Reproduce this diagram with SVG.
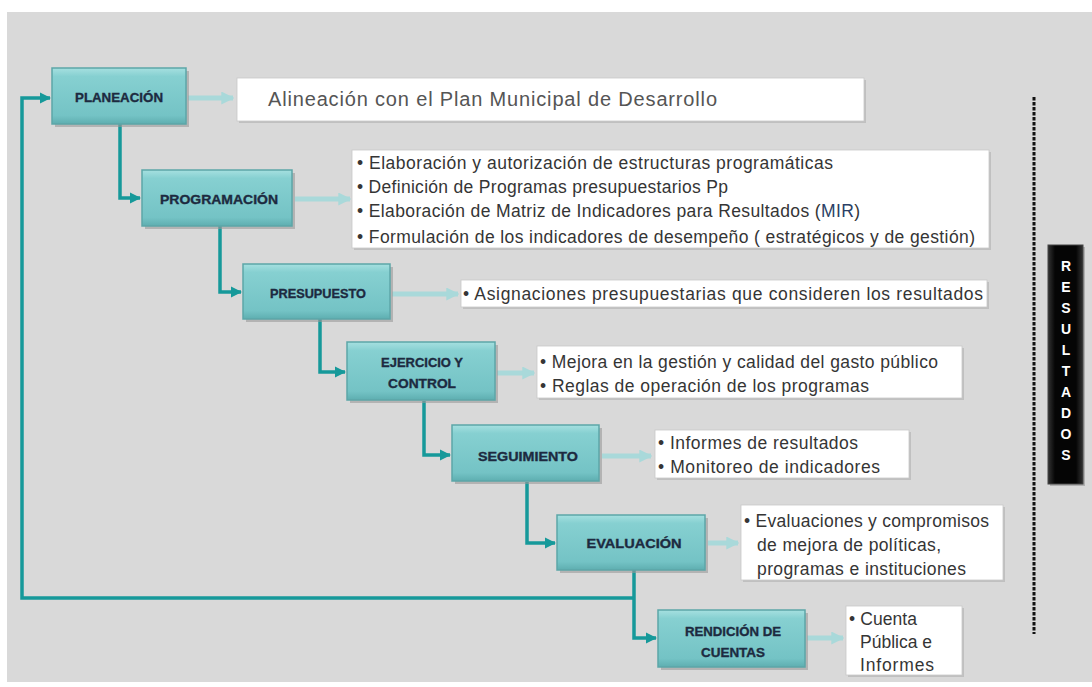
<svg xmlns="http://www.w3.org/2000/svg" width="1092" height="687" viewBox="0 0 1092 687">
<defs>
<linearGradient id="nodeGrad" x1="0" y1="0" x2="0" y2="1">
<stop offset="0" stop-color="#a6e0e0"/>
<stop offset="0.15" stop-color="#86d0d1"/>
<stop offset="0.85" stop-color="#74c3c5"/>
<stop offset="1" stop-color="#5eaeb0"/>
</linearGradient>
<linearGradient id="blackGrad" x1="0" y1="0" x2="1" y2="0">
<stop offset="0" stop-color="#333"/>
<stop offset="0.2" stop-color="#050505"/>
<stop offset="0.8" stop-color="#050505"/>
<stop offset="1" stop-color="#333"/>
</linearGradient>
<marker id="tealHead" viewBox="0 0 10 10" refX="9" refY="5" markerWidth="3.2" markerHeight="3.2" orient="auto" markerUnits="strokeWidth">
<path d="M0,0 L10,5 L0,10 z" fill="#16999a"/>
</marker>
<marker id="lightHead" viewBox="0 0 10 10" refX="9" refY="5" markerWidth="2.6" markerHeight="2.6" orient="auto" markerUnits="strokeWidth">
<path d="M0,0 L10,5 L0,10 z" fill="#a9d9da"/>
</marker>
</defs>
<style>
.node rect.box{fill:url(#nodeGrad);stroke:#5ca6a8;stroke-width:1.5}
.node rect.shadow{fill:#9a9a9a;opacity:0.6}
.node text{font-family:"Liberation Sans",Arial,sans-serif;font-weight:bold;font-size:13px;fill:#1d2a40;stroke:#1d2a40;stroke-width:0.35;text-anchor:middle}
.info rect{fill:#ffffff;stroke:#c8c8c8;stroke-width:0.8}
.info rect.ishadow{fill:#a8a8a8;stroke:none;opacity:0.5}
.info text{font-family:"Liberation Sans",Arial,sans-serif;font-size:17.5px;fill:#353535}
.conn{fill:none;stroke:#16999a;stroke-width:3.5;marker-end:url(#tealHead)}
.light{fill:none;stroke:#a9d9da;stroke-width:5;marker-end:url(#lightHead)}
</style>
<rect x="0" y="0" width="1092" height="687" fill="#ffffff"/>
<rect x="7" y="12" width="1085" height="670" fill="#d9d9d9"/>

<g id="connectors">
<path class="conn" d="M120,124 V198 H140"/>
<path class="conn" d="M220,226 V292 H241"/>
<path class="conn" d="M320,319 V372 H345"/>
<path class="conn" d="M424,401 V455 H450"/>
<path class="conn" d="M527,482 V543 H555"/>
<path class="conn" d="M634,570 V638 H656"/>
<path class="conn" d="M634,598 H22 V98 H50"/>
<path class="light" d="M188,98 H233"/>
<path class="light" d="M295,199 H350"/>
<path class="light" d="M392,294 H458"/>
<path class="light" d="M497,373 H534"/>
<path class="light" d="M602,456 H651"/>
<path class="light" d="M708,543 H738"/>
<path class="light" d="M807,638 H843"/>
</g>

<g id="planeacion" class="node">
<rect class="shadow" x="55" y="71" width="134" height="56"/>
<rect class="box" x="52" y="68" width="134" height="56"/>
<text x="119" y="102" textLength="88" lengthAdjust="spacingAndGlyphs">PLANEACIÓN</text>
</g>
<g id="info-planeacion" class="info">
<rect class="ishadow" x="239" y="80" width="627" height="43"/>
<rect x="237" y="78" width="627" height="43"/>
<text x="268" y="106" textLength="449" style="font-size:20px;fill:#555">Alineación con el Plan Municipal de Desarrollo</text>
</g>

<g id="programacion" class="node">
<rect class="shadow" x="145" y="173" width="150" height="56"/>
<rect class="box" x="142" y="170" width="150" height="56"/>
<text x="219" y="204" textLength="118" lengthAdjust="spacingAndGlyphs">PROGRAMACIÓN</text>
</g>
<g id="info-programacion" class="info">
<rect class="ishadow" x="354" y="152" width="637" height="98"/>
<rect x="352" y="150" width="637" height="98"/>
<text x="357" y="169" textLength="476">• Elaboración y autorización de estructuras programáticas</text>
<text x="357" y="193" textLength="371">• Definición de Programas presupuestarios Pp</text>
<text x="357" y="217" textLength="503">• Elaboración de Matriz de Indicadores para Resultados (<tspan fill="#2b3f66">MIR</tspan>)</text>
<text x="357" y="243" textLength="618">• Formulación de los indicadores de desempeño  ( estratégicos y de gestión)</text>
</g>

<g id="presupuesto" class="node">
<rect class="shadow" x="246" y="267" width="147" height="55"/>
<rect class="box" x="243" y="264" width="147" height="55"/>
<text x="318" y="298" textLength="96" lengthAdjust="spacingAndGlyphs">PRESUPUESTO</text>
</g>
<g id="info-presupuesto" class="info">
<rect class="ishadow" x="463" y="282" width="526" height="27"/>
<rect x="461" y="280" width="526" height="27"/>
<text x="463" y="300" textLength="520">• Asignaciones presupuestarias que consideren los  resultados</text>
</g>

<g id="ejercicio" class="node">
<rect class="shadow" x="350" y="345" width="148" height="58"/>
<rect class="box" x="347" y="342" width="148" height="58"/>
<text x="422" y="367" textLength="82" lengthAdjust="spacingAndGlyphs">EJERCICIO Y</text>
<text x="422" y="388" textLength="68" lengthAdjust="spacingAndGlyphs">CONTROL</text>
</g>
<g id="info-ejercicio" class="info">
<rect class="ishadow" x="539" y="348" width="425" height="52"/>
<rect x="537" y="346" width="425" height="52"/>
<text x="540" y="368" textLength="398">• Mejora en la gestión y calidad del gasto público</text>
<text x="540" y="392" textLength="329">• Reglas  de operación de los programas</text>
</g>

<g id="seguimiento" class="node">
<rect class="shadow" x="455" y="428" width="147" height="56"/>
<rect class="box" x="452" y="425" width="147" height="56"/>
<text x="528" y="461" textLength="100" lengthAdjust="spacingAndGlyphs">SEGUIMIENTO</text>
</g>
<g id="info-seguimiento" class="info">
<rect class="ishadow" x="657" y="432" width="254" height="48"/>
<rect x="655" y="430" width="254" height="48"/>
<text x="658" y="449" textLength="200">• Informes de resultados</text>
<text x="658" y="473" textLength="222">• Monitoreo de indicadores</text>
</g>

<g id="evaluacion" class="node">
<rect class="shadow" x="560" y="518" width="148" height="55"/>
<rect class="box" x="557" y="515" width="148" height="55"/>
<text x="634" y="548" textLength="95" lengthAdjust="spacingAndGlyphs">EVALUACIÓN</text>
</g>
<g id="info-evaluacion" class="info">
<rect class="ishadow" x="743" y="507" width="262" height="75"/>
<rect x="741" y="505" width="262" height="75"/>
<text x="744" y="527" textLength="245">• Evaluaciones y compromisos</text>
<text x="757" y="551" textLength="184">de mejora de políticas,</text>
<text x="757" y="575" textLength="209">programas e instituciones</text>
</g>

<g id="rendicion" class="node">
<rect class="shadow" x="661" y="613" width="147" height="57"/>
<rect class="box" x="658" y="610" width="147" height="57"/>
<text x="733" y="636" textLength="96" lengthAdjust="spacingAndGlyphs">RENDICIÓN DE</text>
<text x="733" y="657" textLength="64" lengthAdjust="spacingAndGlyphs">CUENTAS</text>
</g>
<g id="info-rendicion" class="info">
<rect class="ishadow" x="848" y="608" width="116" height="69"/>
<rect x="846" y="606" width="116" height="69"/>
<text x="849" y="625" textLength="68">• Cuenta</text>
<text x="860" y="648" textLength="72">Pública e</text>
<text x="860" y="671" textLength="74">Informes</text>
</g>

<g id="divider">
<line x1="1034" y1="97" x2="1034" y2="634" stroke="#111" stroke-width="3" stroke-dasharray="3.5 1.5"/>
</g>

<g id="resultados">
<rect x="1050" y="247" width="35" height="239" fill="#888" opacity="0.5"/>
<rect x="1048" y="245" width="35" height="239" fill="url(#blackGrad)" stroke="#444" stroke-width="1"/>
<g font-family="'Liberation Sans',Arial,sans-serif" font-weight="bold" font-size="14px" fill="#ffffff" text-anchor="middle">
<text x="1066" y="271">R</text>
<text x="1066" y="292">E</text>
<text x="1066" y="313">S</text>
<text x="1066" y="334">U</text>
<text x="1066" y="355">L</text>
<text x="1066" y="376">T</text>
<text x="1066" y="397">A</text>
<text x="1066" y="418">D</text>
<text x="1066" y="439">O</text>
<text x="1066" y="460">S</text>
</g>
</g>
</svg>
